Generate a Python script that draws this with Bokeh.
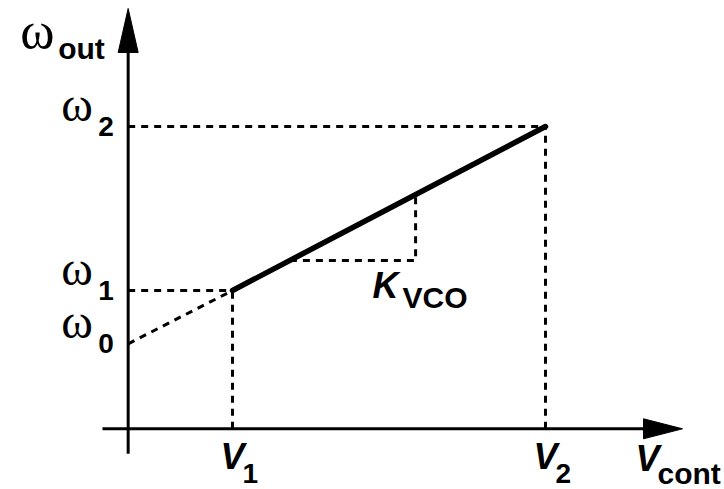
from bokeh.plotting import figure
from bokeh.models import Range1d
from bokeh.embed import file_html
from bokeh.resources import INLINE
from bokeh.core.properties import value

# ---- values (arbitrary units) ----
V1 = 1.0
V2 = 4.0
omega0 = 0.85
omega1 = 1.383
omega2 = 3.023
kvco_x = [1.55, 2.755]          # horizontal extent of the slope triangle
x_labels = ["V", "1", "V", "2"]
y_labels = ["\u03c9", "2", "\u03c9", "1", "\u03c9", "0"]

# ---- layout scale (pixels per unit) ----
W, H = 724, 489
PXX = 104.33
PXY = 100.0
X0_PX, Y0_PX = 127.67, 428.3     # origin position inside canvas (px from top-left)

x_start = -X0_PX / PXX
x_end = (W - X0_PX) / PXX
y_end = Y0_PX / PXY
y_start = -(H - Y0_PX) / PXY

p = figure(width=W, height=H, output_backend="svg", toolbar_location=None,
           x_range=Range1d(x_start, x_end), y_range=Range1d(y_start, y_end),
           x_axis_type=None, y_axis_type=None, min_border=0)
p.grid.visible = False
p.outline_line_color = None
p.background_fill_color = "white"
p.border_fill_color = "white"


def dx(px):
    return px / PXX


def dy(px):
    return px / PXY


slope = (omega2 - omega1) / (V2 - V1)


def line_y(x):
    return omega1 + (x - V1) * slope


# axes
x_tip = x_start + dx(682)
y_tip = y_end - dy(8)
p.line([x_start + dx(102), x_tip - dx(10)], [0, 0], line_width=3, color="black")
p.line([0, 0], [-dy(25), y_tip - dy(10)], line_width=3, color="black")
p.patch([x_tip - dx(39), x_tip, x_tip - dx(39)], [dy(10), 0, -dy(10)], color="black")
p.patch([-dx(10), 0, dx(10)], [y_tip - dy(44), y_tip, y_tip - dy(44)], color="black")

dash = dict(line_width=3, color="black", line_dash="7 6")
# guides
p.line([0, V2], [omega2, omega2], **dash)
p.line([V2, V2], [0, omega2], **dash)
p.line([0, V1], [omega1, omega1], **dash)
p.line([V1, V1], [0, omega1], **dash)
p.line([0, V1], [omega0, omega1], **dash)

# slope triangle
ty = line_y(kvco_x[0])
p.line([kvco_x[0], kvco_x[1], kvco_x[1]], [ty, ty, line_y(kvco_x[1])], **dash)

# main characteristic
p.line([V1, V2], [omega1, omega2], line_width=5.5, color="black", line_cap="round")


def txt(x, y, s, font, size, shift, style="normal"):
    p.text(x=[x], y=[y + dy(shift)], text=[s], text_font=value(font),
           text_font_size=f"{size}px", text_font_style=style, text_color="black",
           text_baseline="alphabetic", text_align="left")


SERIF = "Liberation Serif"
SANS = "Liberation Sans"

# y labels
for i, lev in enumerate([omega2, omega1, omega0]):
    txt(-dx(67), lev + dy(4), y_labels[2 * i], SERIF, 48, 18)
    txt(-dx(30), lev - dy(12), y_labels[2 * i + 1], SANS, 28, 12, "bold")

# omega_out
txt(-dx(108), y_tip - dy(40), "\u03c9", SERIF, 52, 18)
txt(-dx(70), y_tip - dy(51), "out", SANS, 30, 11, "bold")

# x labels
for i, xv in enumerate([V1, V2]):
    txt(xv - dx(12), -dy(44), x_labels[2 * i], SANS, 36, 16, "bold italic")
    txt(xv + dx(10), -dy(58), x_labels[2 * i + 1], SANS, 28, 13, "bold")

# V_cont
txt(x_tip - dx(47), -dy(46), "V", SANS, 36, 16, "bold italic")
txt(x_tip - dx(25), -dy(57), "cont", SANS, 30, 12, "bold")

# K_VCO
cx, cy = kvco_x[1], ty
txt(cx - dx(43), cy - dy(41), "K", SANS, 36, 16, "bold italic")
txt(cx - dx(13), cy - dy(49), "VCO", SANS, 30, 12, "bold")

open("out.html", "w").write(file_html(p, INLINE))
